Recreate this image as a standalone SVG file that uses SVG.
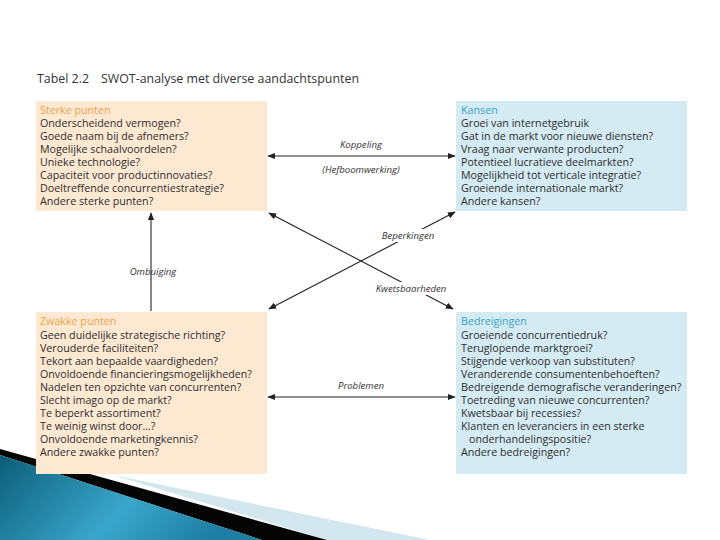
<svg xmlns="http://www.w3.org/2000/svg" width="720" height="540" viewBox="0 0 720 540">
<defs>
<style>
.t{font-family:"Open Sans","Noto Sans","Liberation Sans",sans-serif;font-size:10.7px;fill:#2e2e2e}
.ho{fill:#e8a44a}
.hb{fill:#3ba3c6}
.lbl{font-family:"Open Sans","Noto Sans","Liberation Sans",sans-serif;font-size:9.6px;font-style:italic;fill:#333;text-anchor:middle}
.title{font-family:"Open Sans","Noto Sans","Liberation Sans",sans-serif;font-size:12.4px;fill:#333}
.line{stroke:#222;stroke-width:1.1;fill:none;marker-end:url(#ah)}
.dbl{marker-start:url(#ah)}
.orange{fill:#fde8d2}
.blue{fill:#d4ebf3}
</style>
<marker id="ah" viewBox="0 0 10 10" refX="9" refY="5" markerWidth="8" markerHeight="8" markerUnits="userSpaceOnUse" orient="auto-start-reverse">
<path d="M0,1 L10,5 L0,9 Z" fill="#222"/>
</marker>
<linearGradient id="teal" x1="0" y1="0" x2="1" y2="0.3">
<stop offset="0" stop-color="#0b5d78"/>
<stop offset="0.6" stop-color="#3aa6cb"/>
<stop offset="1" stop-color="#1d7fa3"/>
</linearGradient>
</defs>
<rect width="720" height="540" fill="#ffffff"/>
<g id="decoration">
<polygon points="40,460 430,540 327,540 40,453" fill="#d3e7ee"/>
<polygon points="0,449 327,540 262,540 0,455" fill="#050505"/>
<polygon points="0,455 262,540 0,540" fill="url(#teal)"/>
</g>
<text class="title" x="37" y="83">Tabel 2.2<tspan x="101">SWOT-analyse met diverse aandachtspunten</tspan></text>
<g id="sterke">
<rect class="orange" x="36" y="101" width="231" height="110"/>
<text class="t ho" x="40" y="114">Sterke punten</text>
<text class="t" x="40" y="127">Onderscheidend vermogen?</text>
<text class="t" x="40" y="140">Goede naam bij de afnemers?</text>
<text class="t" x="40" y="153">Mogelijke schaalvoordelen?</text>
<text class="t" x="40" y="166">Unieke technologie?</text>
<text class="t" x="40" y="179">Capaciteit voor productinnovaties?</text>
<text class="t" x="40" y="192">Doeltreffende concurrentiestrategie?</text>
<text class="t" x="40" y="205">Andere sterke punten?</text>
</g>
<g id="kansen">
<rect class="blue" x="456" y="101" width="231" height="110"/>
<text class="t hb" x="461" y="114">Kansen</text>
<text class="t" x="461" y="127">Groei van internetgebruik</text>
<text class="t" x="461" y="140">Gat in de markt voor nieuwe diensten?</text>
<text class="t" x="461" y="153">Vraag naar verwante producten?</text>
<text class="t" x="461" y="166">Potentieel lucratieve deelmarkten?</text>
<text class="t" x="461" y="179">Mogelijkheid tot verticale integratie?</text>
<text class="t" x="461" y="192">Groeiende internationale markt?</text>
<text class="t" x="461" y="205">Andere kansen?</text>
</g>
<g id="zwakke">
<rect class="orange" x="36" y="312" width="231" height="162"/>
<text class="t ho" x="40" y="325">Zwakke punten</text>
<text class="t" x="40" y="339">Geen duidelijke strategische richting?</text>
<text class="t" x="40" y="352">Verouderde faciliteiten?</text>
<text class="t" x="40" y="365">Tekort aan bepaalde vaardigheden?</text>
<text class="t" x="40" y="378">Onvoldoende financieringsmogelijkheden?</text>
<text class="t" x="40" y="391">Nadelen ten opzichte van concurrenten?</text>
<text class="t" x="40" y="404">Slecht imago op de markt?</text>
<text class="t" x="40" y="417">Te beperkt assortiment?</text>
<text class="t" x="40" y="430">Te weinig winst door…?</text>
<text class="t" x="40" y="443">Onvoldoende marketingkennis?</text>
<text class="t" x="40" y="456">Andere zwakke punten?</text>
</g>
<g id="bedreigingen">
<rect class="blue" x="456" y="312" width="231" height="162"/>
<text class="t hb" x="461" y="325">Bedreigingen</text>
<text class="t" x="461" y="339">Groeiende concurrentiedruk?</text>
<text class="t" x="461" y="352">Teruglopende marktgroei?</text>
<text class="t" x="461" y="365">Stijgende verkoop van substituten?</text>
<text class="t" x="461" y="378">Veranderende consumentenbehoeften?</text>
<text class="t" x="461" y="391">Bedreigende demografische veranderingen?</text>
<text class="t" x="461" y="404">Toetreding van nieuwe concurrenten?</text>
<text class="t" x="461" y="417">Kwetsbaar bij recessies?</text>
<text class="t" x="461" y="430">Klanten en leveranciers in een sterke</text>
<text class="t" x="469" y="443">onderhandelingspositie?</text>
<text class="t" x="461" y="456">Andere bedreigingen?</text>
</g>
<g id="connectors">
<line class="line dbl" x1="268" y1="156" x2="455" y2="156"/>
<line class="line" x1="151" y1="311" x2="151" y2="213"/>
<line class="line dbl" x1="269" y1="213" x2="453" y2="309"/>
<line class="line dbl" x1="269" y1="309" x2="455" y2="212"/>
<line class="line dbl" x1="268" y1="397" x2="455" y2="397"/>
<rect x="375" y="229" width="66" height="13" fill="#fff"/>
<rect x="372" y="282" width="78" height="13" fill="#fff"/>
<text class="lbl" x="361" y="148">Koppeling</text>
<text class="lbl" x="361" y="173">(Hefboomwerking)</text>
<text class="lbl" x="153" y="275">Ombuiging</text>
<text class="lbl" x="408" y="239">Beperkingen</text>
<text class="lbl" x="411" y="292">Kwetsbaarheden</text>
<text class="lbl" x="361" y="389">Problemen</text>
</g>
</svg>
